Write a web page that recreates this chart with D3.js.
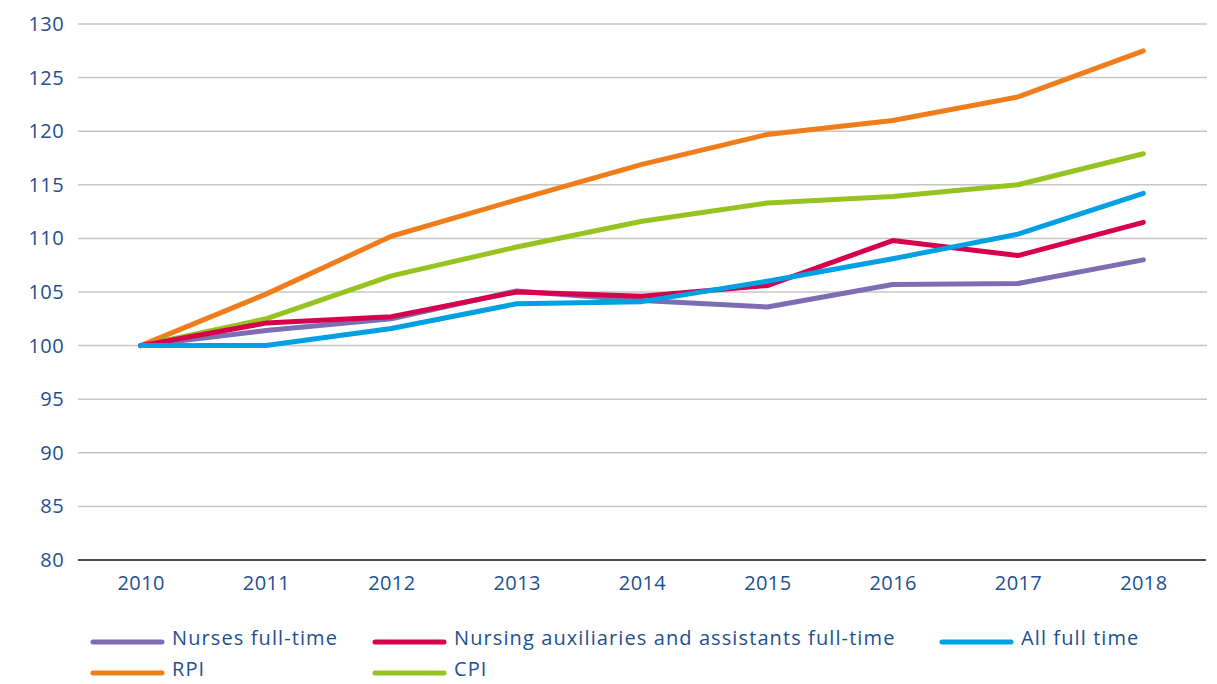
<!DOCTYPE html>
<html>
<head>
<meta charset="utf-8">
<script src="https://cdn.jsdelivr.net/npm/d3@7"></script>
<style>
  html, body { margin: 0; padding: 0; background: #fff; }
  svg text { font-family: "Open Sans", Lato, sans-serif; fill: #1d4f91; }
</style>
</head>
<body>
<svg id="chart" width="1217" height="684"></svg>
<script>
const years = ["2010","2011","2012","2013","2014","2015","2016","2017","2018"];
const yTicks = [80,85,90,95,100,105,110,115,120,125,130];

const nurses     = [100, 101.4, 102.5, 105.1, 104.2, 103.6, 105.7, 105.8, 108.0];
const auxiliaries= [100, 102.1, 102.7, 105.0, 104.6, 105.6, 109.8, 108.4, 111.5];
const allFull    = [100, 100.0, 101.6, 103.9, 104.1, 106.0, 108.1, 110.4, 114.2];
const rpi        = [100, 104.8, 110.2, 113.6, 116.9, 119.7, 121.0, 123.2, 127.5];
const cpi        = [100, 102.5, 106.5, 109.2, 111.6, 113.3, 113.9, 115.0, 117.9];

const seriesNames = ["Nurses full-time","Nursing auxiliaries and assistants full-time","All full time","RPI","CPI"];
const seriesColors = ["#7d6db3","#d7004c","#00a0e3","#f07d1c","#97c21f"];
const seriesValues = [nurses, auxiliaries, allFull, rpi, cpi];
// drawing order: bottom to top as in the reference
const drawOrder = [3, 4, 0, 1, 2];

const svg = d3.select("#chart");
const x = d3.scalePoint().domain(years).range([78, 1206]).padding(0.5);
const y = d3.scaleLinear().domain([80, 130]).range([560, 24]);

// gridlines
svg.append("g")
  .selectAll("line")
  .data(yTicks.filter(t => t !== 80))
  .join("line")
  .attr("x1", 78).attr("x2", 1207)
  .attr("y1", d => y(d)).attr("y2", d => y(d))
  .attr("stroke", "#c6c6c6").attr("stroke-width", 1.5);

// y axis labels
const yAxis = svg.append("g").attr("transform", "translate(64,0)")
  .call(d3.axisLeft(y).tickValues(yTicks).tickSize(0).tickPadding(0));
yAxis.select(".domain").remove();
yAxis.selectAll("text").attr("font-size", 20).attr("fill", "#1d4f91")
  .style("letter-spacing", "0.4px")
  .style("font-family", "'Open Sans', Lato, sans-serif");

// x axis
const xAxis = svg.append("g").attr("transform", "translate(0,560)")
  .call(d3.axisBottom(x).tickSize(0).tickPadding(16));
xAxis.select(".domain").remove();
xAxis.selectAll("text").attr("font-size", 20).attr("fill", "#1d4f91")
  .style("letter-spacing", "0.4px")
  .style("font-family", "'Open Sans', Lato, sans-serif");
svg.append("line").attr("x1", 78).attr("x2", 1206)
  .attr("y1", y(80)).attr("y2", y(80))
  .attr("stroke", "#111").attr("stroke-width", 1.5);

// lines
const line = d3.line().x((d, i) => x(years[i])).y(d => y(d));
svg.append("g").selectAll("path")
  .data(drawOrder)
  .join("path")
  .attr("d", i => line(seriesValues[i]))
  .attr("fill", "none")
  .attr("stroke", i => seriesColors[i])
  .attr("stroke-width", 5)
  .attr("stroke-linecap", "round")
  .attr("stroke-linejoin", "round");

// legend
const legendPos = [
  {x: 93, y: 642}, {x: 375, y: 642}, {x: 942, y: 642},
  {x: 93, y: 673}, {x: 375, y: 673}
];
const lg = svg.append("g").selectAll("g").data(seriesNames).join("g")
  .attr("transform", (d, i) => `translate(${legendPos[i].x},${legendPos[i].y})`);
lg.append("line").attr("x1", 0).attr("x2", 69).attr("y1", 0).attr("y2", 0)
  .attr("stroke", (d, i) => seriesColors[i]).attr("stroke-width", 5)
  .attr("stroke-linecap", "round");
lg.append("text").attr("x", 79).attr("y", -2).attr("dominant-baseline", "middle")
  .attr("font-size", 20).style("letter-spacing", "1.1px").text(d => d);
</script>
</body>
</html>
